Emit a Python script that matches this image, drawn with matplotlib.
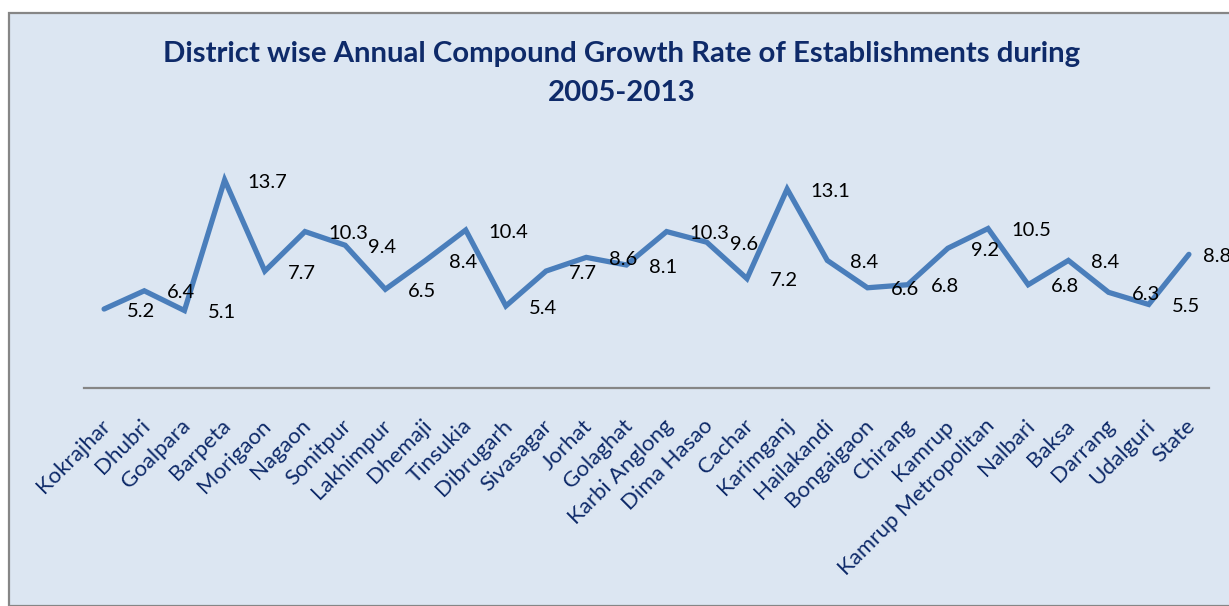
import matplotlib
matplotlib.use("Agg")
import matplotlib.pyplot as plt
import matplotlib.transforms as mtransforms
from matplotlib.patches import Rectangle

districts = ["Kokrajhar", "Dhubri", "Goalpara", "Barpeta", "Morigaon", "Nagaon",
             "Sonitpur", "Lakhimpur", "Dhemaji", "Tinsukia", "Dibrugarh", "Sivasagar",
             "Jorhat", "Golaghat", "Karbi Anglong", "Dima Hasao", "Cachar", "Karimganj",
             "Hailakandi", "Bongaigaon", "Chirang", "Kamrup", "Kamrup Metropolitan",
             "Nalbari", "Baksa", "Darrang", "Udalguri", "State"]
growth = [5.2, 6.4, 5.1, 13.7, 7.7, 10.3, 9.4, 6.5, 8.4, 10.4, 5.4, 7.7, 8.6, 8.1,
          10.3, 9.6, 7.2, 13.1, 8.4, 6.6, 6.8, 9.2, 10.5, 6.8, 8.4, 6.3, 5.5, 8.8]
title_lines = ["District wise Annual Compound Growth Rate of Establishments during",
               "2005-2013"]

W, H = 1229, 606
fig = plt.figure(figsize=(W / 100, H / 100), dpi=100)
fig.patch.set_facecolor("white")
bg = "#dce6f2"
navy = "#0e2a69"
fig.add_artist(Rectangle((9 / W, 0), 1.0, 1 - 13 / H, transform=fig.transFigure,
                         facecolor=bg, edgecolor="#868686", linewidth=1.6, zorder=0))

ax = fig.add_axes([84 / W, 1 - 388 / H, (1209 - 84) / W, (388 - 145) / H])
ax.set_facecolor("none")
x = list(range(len(districts)))
ax.plot(x, growth, color="#4a7ebb", linewidth=3.8, solid_joinstyle="miter",
        solid_capstyle="round", zorder=3)
labels = []
for xi, v in zip(x, growth):
    t = ax.annotate(f"{v}", (xi, v), xytext=(23 * 0.72, -1.5), textcoords="offset points",
                    ha="left", va="center", fontsize=14.5, family="Lato", color="black")
    labels.append(t)

ax.set_xlim(-0.5, len(districts) - 0.5)
ax.set_ylim(0, 16)
for s in ["top", "right", "left"]:
    ax.spines[s].set_visible(False)
ax.spines["bottom"].set_color("#868686")
ax.spines["bottom"].set_linewidth(1.6)
ax.set_yticks([])
ax.set_xticks(x)
ax.set_xticklabels(districts, rotation=45, ha="right", va="center", rotation_mode="anchor",
                   fontsize=16, family="Lato", color=navy)
ax.tick_params(axis="x", length=0, pad=25)
offset = mtransforms.ScaledTranslation(3 / 100, 0, fig.dpi_scale_trans)
for lbl in ax.get_xticklabels():
    lbl.set_transform(lbl.get_transform() + offset)

fig.text(622 / W, 1 - 54 / H, title_lines[0], ha="center", va="center", fontsize=21.2,
         fontweight="bold", family="Lato", color=navy)
fig.text(622 / W, 1 - 93 / H, title_lines[1], ha="center", va="center", fontsize=21.2,
         fontweight="bold", family="Lato", color=navy)

# keep data labels inside the figure (as the chart tool nudges them)
fig.canvas.draw()
renderer = fig.canvas.get_renderer()
for t in labels:
    bb = t.get_window_extent(renderer)
    if bb.x1 > W + 2:
        dx = (bb.x1 - (W + 2)) * 0.72
        ox, oy = t.xyann
        t.xyann = (ox - dx, oy)

fig.savefig("out.png", dpi=100, facecolor=fig.get_facecolor())
